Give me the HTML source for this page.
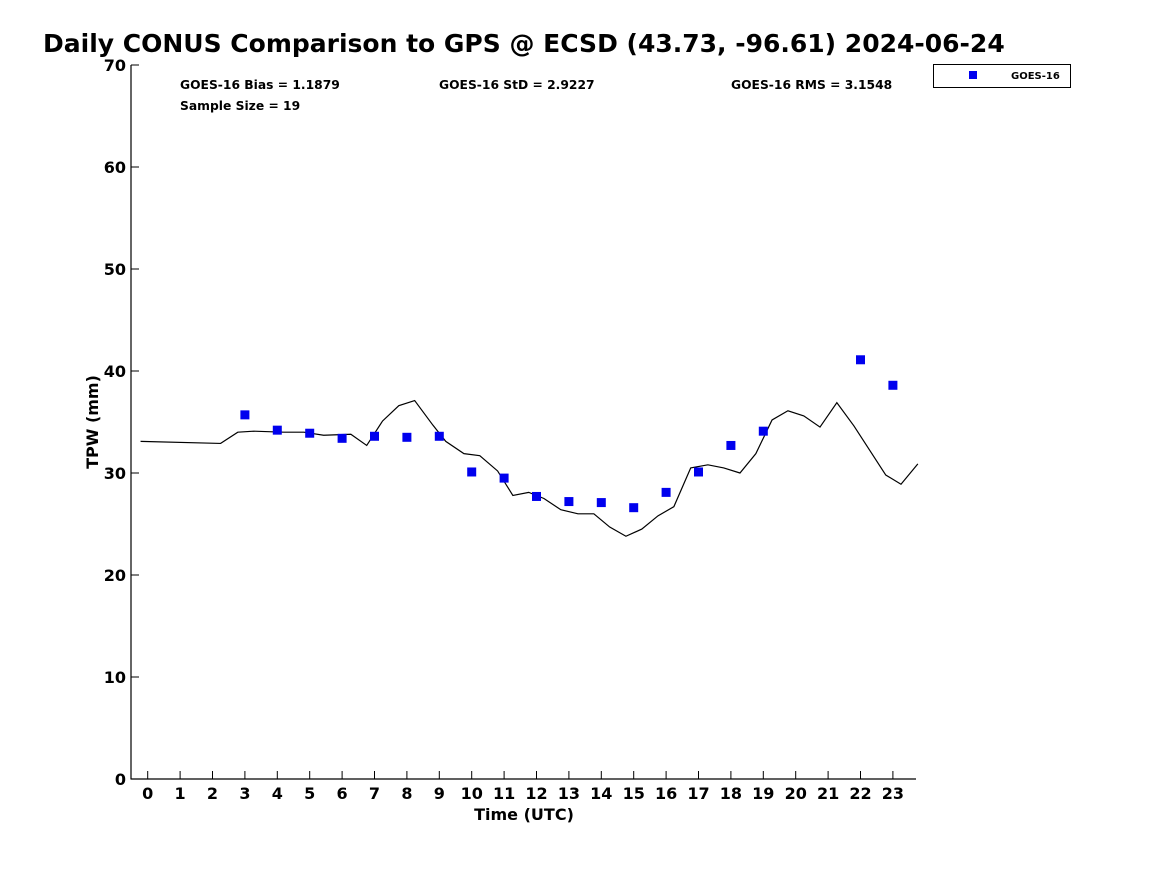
<!DOCTYPE html>
<html><head><meta charset="utf-8"><style>
body{margin:0;background:#fff;}
svg{display:block;font-family:"DejaVu Sans","Liberation Sans",sans-serif;font-weight:bold;}
</style></head><body>
<svg id="chart" width="1167" height="875" viewBox="0 0 1167 875">
<text x="43" y="52" font-size="25" fill="#000">Daily CONUS Comparison to GPS @ ECSD (43.73, -96.61) 2024-06-24</text>
<g id="axes"></g>
<g id="series"></g>
<text x="180" y="89" font-size="12.3">GOES-16 Bias = 1.1879</text>
<text x="439" y="89" font-size="12.3">GOES-16 StD = 2.9227</text>
<text x="731" y="89" font-size="12.3">GOES-16 RMS = 3.1548</text>
<text x="180" y="110" font-size="12.3">Sample Size = 19</text>
<g>
<rect x="933.5" y="64.5" width="137" height="23" fill="#fff" stroke="#000"/>
<rect x="969" y="71" width="8" height="8" fill="#0000ee"/>
<text x="1011" y="79" font-size="10">GOES-16</text>
</g>
<text x="524" y="820" font-size="16" text-anchor="middle">Time (UTC)</text>
<text transform="translate(98,422) rotate(-90)" font-size="16" text-anchor="middle">TPW (mm)</text>
</svg>
<script>
const yTicks=[0,10,20,30,40,50,60,70];
const xTicks=[0,1,2,3,4,5,6,7,8,9,10,11,12,13,14,15,16,17,18,19,20,21,22,23];
const gpsHours=[-0.22,2.25,2.78,3.27,4.2,4.82,5.43,6.27,6.76,7.25,7.75,8.24,8.8,9.2,9.76,10.25,10.8,11.27,11.76,12.23,12.75,13.28,13.77,14.26,14.76,15.25,15.75,16.24,16.76,17.29,17.78,18.28,18.77,19.27,19.76,20.25,20.75,21.27,21.8,22.29,22.78,23.25,23.77];
const gpsValues=[33.1,32.9,34.0,34.1,34.0,34.0,33.7,33.8,32.7,35.1,36.6,37.1,34.7,33.1,31.9,31.7,30.2,27.8,28.1,27.5,26.4,26.0,26.0,24.7,23.8,24.5,25.8,26.7,30.5,30.8,30.5,30.0,31.9,35.2,36.1,35.6,34.5,36.9,34.6,32.2,29.8,28.9,30.9];
const goesHours=[3,4,5,6,7,8,9,10,11,12,13,14,15,16,17,18,19,22,23];
const goesValues=[35.7,34.2,33.9,33.4,33.6,33.5,33.6,30.1,29.5,27.7,27.2,27.1,26.6,28.1,30.1,32.7,34.1,41.1,38.6];
const NS='http://www.w3.org/2000/svg';
const X=h=>147.7+h*32.4;
const Y=v=>779-v*10.2;
function mk(tag,attrs,parent){const e=document.createElementNS(NS,tag);for(const k in attrs)e.setAttribute(k,attrs[k]);parent.appendChild(e);return e;}
const ax=document.getElementById('axes');
let e=mk('line',{x1:131,y1:65,x2:131,y2:779.5,stroke:'#000','stroke-width':1.2},ax);


e=mk('line',{x1:131,y1:779,x2:916,y2:779,stroke:'#000','stroke-width':1.2},ax);


yTicks.forEach(v=>{
 const t=mk('line',{x1:131,y1:Y(v),x2:139,y2:Y(v),stroke:'#000'},ax);
 
 
 const l=mk('text',{x:126,y:Y(v)+6,'font-size':16,'text-anchor':'end'},ax);
 l.textContent=v;
 
 
});
xTicks.forEach(h=>{
 const t=mk('line',{x1:X(h),y1:779,x2:X(h),y2:771,stroke:'#000'},ax);
 
 
 const l=mk('text',{x:X(h),y:799,'font-size':16,'text-anchor':'middle'},ax);
 l.textContent=h;
 
 
});
const sg=document.getElementById('series');
const line=mk('polyline',{points:gpsHours.map((h,i)=>X(h)+','+Y(gpsValues[i])).join(' '),fill:'none',stroke:'#000','stroke-width':1.2},sg);


goesHours.forEach((h,i)=>{
 const r=mk('rect',{x:X(h)-4.5,y:Y(goesValues[i])-4.5,width:9,height:9,fill:'#0000ee'},sg);
 
 
});
</script>
</body></html>
